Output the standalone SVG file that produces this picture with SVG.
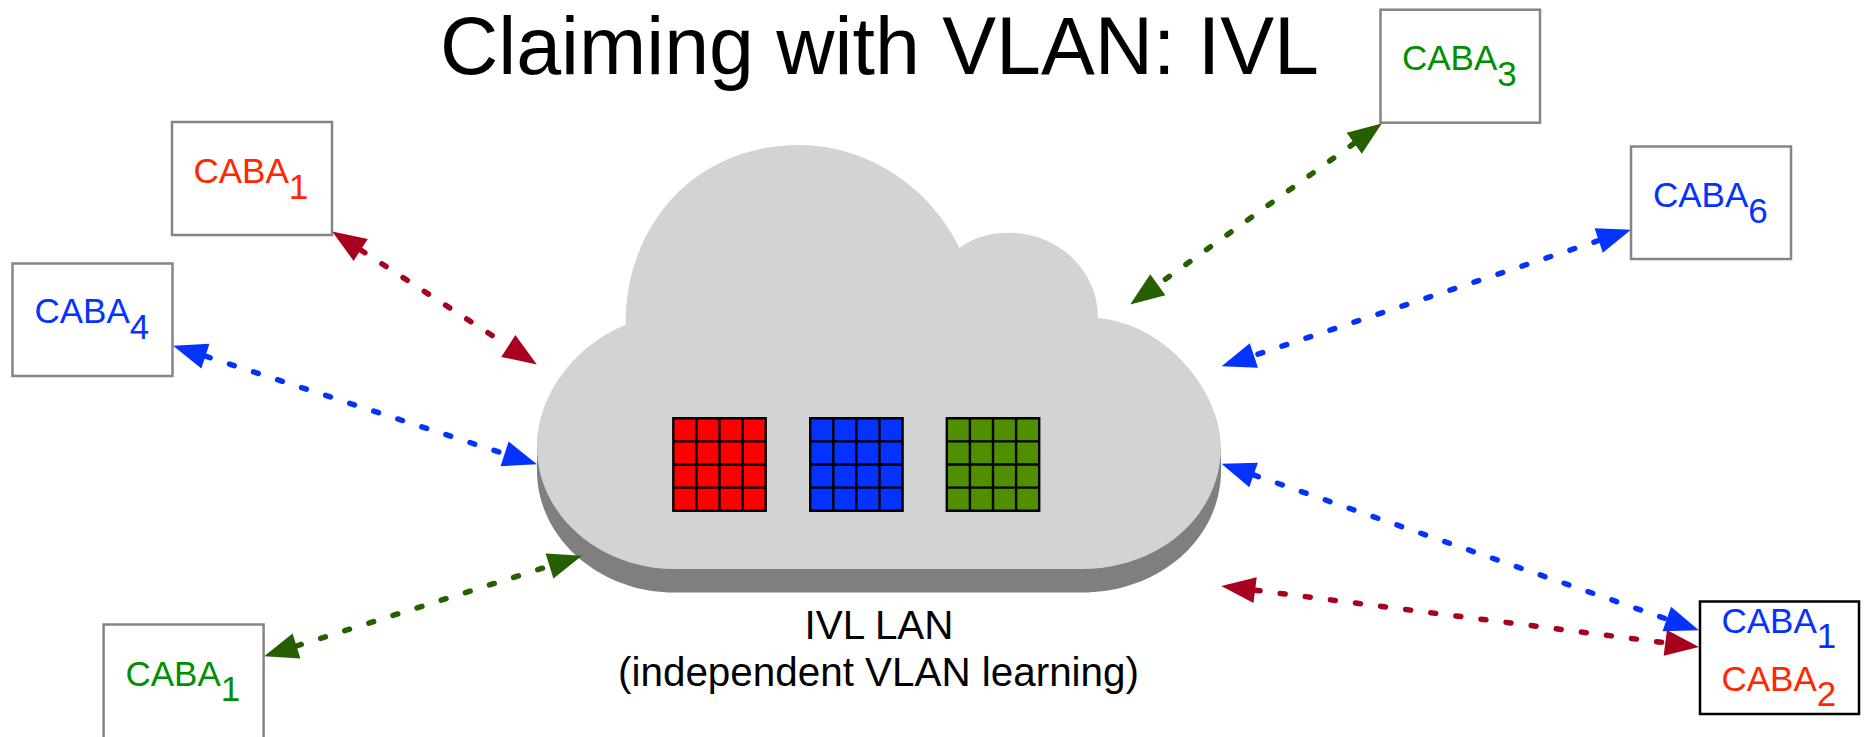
<svg xmlns="http://www.w3.org/2000/svg" width="1866" height="737" viewBox="0 0 1866 737">
<style>
text{font-family:"Liberation Sans",Arial,sans-serif}
.t{font-size:35px}
.title{font-size:80.7px;fill:#000}
.lbl{font-size:40.4px;fill:#000;text-anchor:middle}
.box{fill:#fff;stroke:#858585;stroke-width:2.5}
.boxk{fill:#fff;stroke:#000;stroke-width:2.5}
.tr{fill:#ff2600}.tb{fill:#0433ff}.tg{fill:#008f00}
.c{fill:none;stroke-width:5.5;stroke-linecap:round;stroke-dasharray:5 20.3}
.cr{stroke:#a8001f;marker-start:url(#mr);marker-end:url(#mr)}
.cb{stroke:#0433ff;marker-start:url(#mb);marker-end:url(#mb)}
.cg{stroke:#255f00;marker-start:url(#mg);marker-end:url(#mg)}
</style>
<defs>
<marker id="mr" markerUnits="userSpaceOnUse" markerWidth="36" markerHeight="30" refX="1" refY="15" orient="auto-start-reverse"><path d="M1,2L35,15L1,28Z" fill="#a8001f"/></marker>
<marker id="mb" markerUnits="userSpaceOnUse" markerWidth="36" markerHeight="30" refX="1" refY="15" orient="auto-start-reverse"><path d="M1,2L35,15L1,28Z" fill="#0433ff"/></marker>
<marker id="mg" markerUnits="userSpaceOnUse" markerWidth="36" markerHeight="30" refX="1" refY="15" orient="auto-start-reverse"><path d="M1,2L35,15L1,28Z" fill="#255f00"/></marker>
<path id="cloudshape" d="M625.5,325C625.5,222 697,145 799,145C870,145 932,190 959.5,248C972,238 990,232.7 1009,232.7C1058,232.7 1098,270 1098,318C1170,325 1221,395 1221,447C1221,515 1160,569 1082,569L674,569C600,569 537,515 537,447C537,395 575,345 625.5,325Z"/>
<path id="gridlines" d="M0,0H92.4V92.4H0ZM23.1,0V92.4M46.2,0V92.4M69.3,0V92.4M0,23.1H92.4M0,46.2H92.4M0,69.3H92.4" fill="none" stroke="#000" stroke-width="2.4"/>
</defs>
<g id="title"><text class="title" x="440" y="74">Claiming with VLAN: IVL</text></g>
<g id="cloud">
<rect x="537" y="447" width="684" height="24" fill="#7f7f7f"/>
<use href="#cloudshape" y="23.5" fill="#7f7f7f"/>
<use href="#cloudshape" fill="#d2d3d3"/>
<g id="table-red" transform="translate(673.3,418.3)"><rect width="92.4" height="92.4" fill="#ff0000"/><use href="#gridlines"/></g>
<g id="table-blue" transform="translate(810.2,418.3)"><rect width="92.4" height="92.4" fill="#0433ff"/><use href="#gridlines"/></g>
<g id="table-green" transform="translate(946.8,418.3)"><rect width="92.4" height="92.4" fill="#4f8f00"/><use href="#gridlines"/></g>
<text class="lbl" x="879" y="638.5">IVL LAN</text>
<text class="lbl" x="878.5" y="685.5">(independent VLAN learning)</text>
</g>
<g id="connectors">
<line class="c cr" x1="360.7" y1="250" x2="508.3" y2="346"/>
<line class="c cb" x1="205.4" y1="356.2" x2="504.6" y2="453.8"/>
<line class="c cg" x1="296.5" y1="646" x2="549.5" y2="566"/>
<line class="c cg" x1="1354.2" y1="143.3" x2="1157.8" y2="284.7"/>
<line class="c cb" x1="1598.7" y1="240.5" x2="1253.9" y2="355.5"/>
<line class="c cb" x1="1253.6" y1="474.9" x2="1666.8" y2="619.1"/>
<line class="c cr" x1="1255.1" y1="590.2" x2="1665.3" y2="642.8"/>
</g>
<g id="caba1-red"><rect class="box" x="172" y="122" width="160" height="113"/><text class="t tr" x="193.5" y="182.7">CABA<tspan dy="16">1</tspan></text></g>
<g id="caba4-blue"><rect class="box" x="12.5" y="263.5" width="160" height="112.5"/><text class="t tb" x="34.5" y="323">CABA<tspan dy="16">4</tspan></text></g>
<g id="caba1-green"><rect class="box" x="103.6" y="624.5" width="160" height="114"/><text class="t tg" x="125.5" y="685.7">CABA<tspan dy="15">1</tspan></text></g>
<g id="caba3-green"><rect class="box" x="1380.5" y="9.7" width="159.5" height="113"/><text class="t tg" x="1402" y="70">CABA<tspan dy="15.7">3</tspan></text></g>
<g id="caba6-blue"><rect class="box" x="1631" y="146.5" width="160" height="112.5"/><text class="t tb" x="1653" y="207">CABA<tspan dy="15.7">6</tspan></text></g>
<g id="caba-pair"><rect class="boxk" x="1700" y="601.5" width="159" height="112.5"/><text class="t tb" x="1721.5" y="633">CABA<tspan dy="15">1</tspan></text><text class="t tr" x="1721.5" y="690.7">CABA<tspan dy="15">2</tspan></text></g>
</svg>
